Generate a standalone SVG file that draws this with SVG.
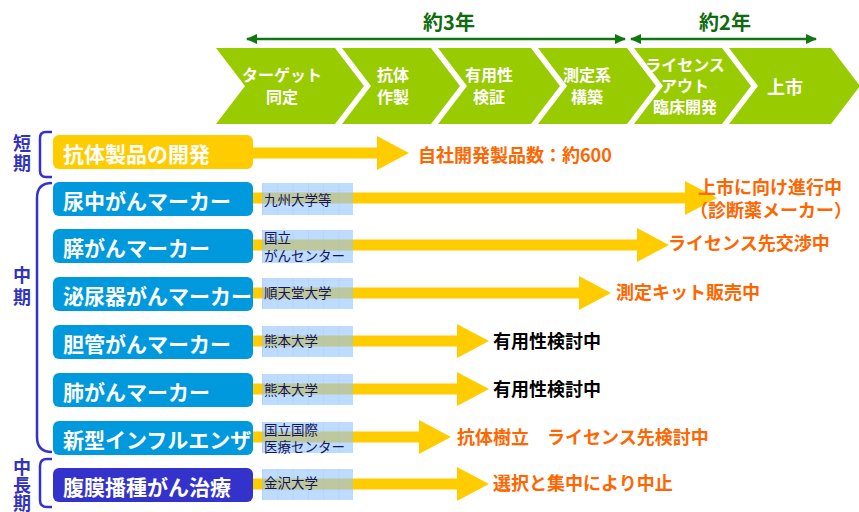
<svg xmlns="http://www.w3.org/2000/svg" width="859" height="512" viewBox="0 0 859 512">
<style>
text{font-family:"Noto Sans CJK JP","Noto Sans",sans-serif;font-weight:bold}
.chev{fill:#99cc00}
.ct{fill:#ffffff;font-size:16px;text-anchor:middle}
.dur{fill:#0e6b0e;font-size:20px;text-anchor:middle}
.dl{stroke:#117711;stroke-width:2.5;fill:none}
.term{fill:#3333bb;font-size:18px;writing-mode:vertical-rl}
.br{stroke:#3333cc;stroke-width:2.5;fill:none}
.bx{stroke:none}
.y{fill:#ffcc00}
.b{fill:#0099dd}
.d{fill:#3333cc}
.bt{fill:#ffffff;font-size:21px}
.ya{stroke:#ffcc00;stroke-width:11;fill:none}
.pb{fill:rgb(148,197,255);fill-opacity:0.61}
.pg{fill:url(#grid)}
.pt{fill:#14145a;font-size:13.5px;font-weight:normal}
.st{font-size:18px}
.or{fill:#ff6600}
.bk{fill:#000000}
</style>
<defs>
<marker id="gh" markerUnits="userSpaceOnUse" markerWidth="12" markerHeight="10" refX="10" refY="5" orient="auto-start-reverse">
<path d="M0,0 L11,5 L0,10 z" fill="#117711"/>
</marker>
<marker id="yh" markerUnits="userSpaceOnUse" markerWidth="34" markerHeight="34" refX="0" refY="17" orient="auto">
<path d="M0,0 L32,17 L0,34 z" fill="#ffcc00"/>
</marker>
<pattern id="grid" patternUnits="userSpaceOnUse" x="262" y="0" width="15.3" height="10">
<path d="M0,0 V10" stroke="#8fb9ee" stroke-width="0.8" opacity="0.6"/>
<path d="M0,0 H15.3" stroke="#8fb9ee" stroke-width="0.5" opacity="0.35"/>
</pattern>
</defs>

<g id="duration-3y">
<line class="dl" x1="247" y1="39" x2="625" y2="39" marker-start="url(#gh)" marker-end="url(#gh)"/>
<text class="dur" x="449" y="30">約3年</text>
</g>
<g id="duration-2y">
<line class="dl" x1="631" y1="39" x2="816" y2="39" marker-start="url(#gh)" marker-end="url(#gh)"/>
<text class="dur" x="725" y="30">約2年</text>
</g>

<g id="step-1">
<polygon class="chev" points="216,48 335,48 364,86 335,124 216,124 245,86"/>
<text class="ct" x="282" y="81">ターゲット<tspan x="282" dy="22">同定</tspan></text>
</g>
<g id="step-2">
<polygon class="chev" points="342,48 431,48 460,86 431,124 342,124 371,86"/>
<text class="ct" x="393" y="81">抗体<tspan x="393" dy="22">作製</tspan></text>
</g>
<g id="step-3">
<polygon class="chev" points="438,48 531,48 560,86 531,124 438,124 467,86"/>
<text class="ct" x="489" y="81">有用性<tspan x="489" dy="22">検証</tspan></text>
</g>
<g id="step-4">
<polygon class="chev" points="538,48 627,48 656,86 627,124 538,124 567,86"/>
<text class="ct" x="587" y="81">測定系<tspan x="587" dy="22">構築</tspan></text>
</g>
<g id="step-5">
<polygon class="chev" points="634,48 722,48 751,86 722,124 634,124 663,86"/>
<text class="ct" x="685" y="71">ライセンス<tspan x="685" dy="21">アウト</tspan><tspan x="685" dy="21">臨床開発</tspan></text>
</g>
<g id="step-6">
<polygon class="chev" points="729,48 831,48 860,86 831,124 729,124 758,86"/>
<text class="ct" x="785" y="94" style="font-size:18px">上市</text>
</g>

<g id="term-short">
<path class="br" d="M52,132 H46 Q40,132 40,138 V171 Q40,177 46,177 H52"/>
<text class="term" x="22" y="134" style="letter-spacing:2px">短期</text>
</g>
<g id="term-mid">
<path class="br" d="M52,183 Q37,183 37,198 V437 Q37,452 52,452"/>
<text class="term" x="22" y="266" style="letter-spacing:4px">中期</text>
</g>
<g id="term-midlong">
<path class="br" d="M52,459 H47 Q40,459 40,466 V500 Q40,507 47,507 H52"/>
<text class="term" x="22" y="458">中長期</text>
</g>

<g id="connectors">
<line class="ya" x1="253" y1="153" x2="377" y2="153" marker-end="url(#yh)"/>
<line class="ya" x1="253" y1="198" x2="685" y2="198" marker-end="url(#yh)"/>
<line class="ya" x1="253" y1="245" x2="637" y2="245" marker-end="url(#yh)"/>
<line class="ya" x1="253" y1="293" x2="579" y2="293" marker-end="url(#yh)"/>
<line class="ya" x1="253" y1="341" x2="457" y2="341" marker-end="url(#yh)"/>
<line class="ya" x1="253" y1="389" x2="457" y2="389" marker-end="url(#yh)"/>
<line class="ya" x1="253" y1="437" x2="419" y2="437" marker-end="url(#yh)"/>
<line class="ya" x1="253" y1="484" x2="457" y2="484" marker-end="url(#yh)"/>
</g>

<g id="row-antibody">
<rect class="bx y" x="53" y="135" width="200" height="34" rx="6"/>
<text class="bt" x="63" y="162">抗体製品の開発</text>
</g>
<g id="row-urine">
<rect class="bx b" x="53" y="182" width="200" height="34" rx="6"/>
<text class="bt" x="63" y="209">尿中がんマーカー</text>
</g>
<g id="row-pancreas">
<rect class="bx b" x="53" y="229" width="200" height="34" rx="6"/>
<text class="bt" x="63" y="256">膵がんマーカー</text>
</g>
<g id="row-urologic">
<rect class="bx b" x="53" y="277" width="200" height="34" rx="6"/>
<text class="bt" x="63" y="304">泌尿器がんマーカー</text>
</g>
<g id="row-biliary">
<rect class="bx b" x="53" y="325" width="200" height="34" rx="6"/>
<text class="bt" x="63" y="352">胆管がんマーカー</text>
</g>
<g id="row-lung">
<rect class="bx b" x="53" y="373" width="200" height="34" rx="6"/>
<text class="bt" x="63" y="400">肺がんマーカー</text>
</g>
<g id="row-flu">
<rect class="bx b" x="53" y="421" width="200" height="34" rx="6"/>
<text class="bt" x="63" y="448">新型インフルエンザ</text>
</g>
<g id="row-peritoneal">
<rect class="bx d" x="53" y="468" width="200" height="34" rx="6"/>
<text class="bt" x="63" y="495">腹膜播種がん治療</text>
</g>

<g id="partner-kyushu">
<rect class="pb" x="262" y="183" width="91" height="32"/>
<rect class="pg" x="262" y="183" width="91" height="32"/>
<text class="pt" x="264" y="205">九州大学等</text>
</g>
<g id="partner-ncc">
<rect class="pb" x="262" y="230" width="91" height="33"/>
<rect class="pg" x="262" y="230" width="91" height="33"/>
<text class="pt" x="264" y="243">国立<tspan x="264" dy="18">がんセンター</tspan></text>
</g>
<g id="partner-juntendo">
<rect class="pb" x="262" y="278" width="91" height="31"/>
<rect class="pg" x="262" y="278" width="91" height="31"/>
<text class="pt" x="264" y="298">順天堂大学</text>
</g>
<g id="partner-kumamoto-1">
<rect class="pb" x="262" y="326" width="91" height="31"/>
<rect class="pg" x="262" y="326" width="91" height="31"/>
<text class="pt" x="264" y="346">熊本大学</text>
</g>
<g id="partner-kumamoto-2">
<rect class="pb" x="262" y="374" width="91" height="31"/>
<rect class="pg" x="262" y="374" width="91" height="31"/>
<text class="pt" x="264" y="395">熊本大学</text>
</g>
<g id="partner-ncgm">
<rect class="pb" x="262" y="422" width="91" height="31"/>
<rect class="pg" x="262" y="422" width="91" height="31"/>
<text class="pt" x="264" y="435">国立国際<tspan x="264" dy="17">医療センター</tspan></text>
</g>
<g id="partner-kanazawa">
<rect class="pb" x="262" y="469" width="91" height="31"/>
<rect class="pg" x="262" y="469" width="91" height="31"/>
<text class="pt" x="264" y="488">金沢大学</text>
</g>

<g id="status-antibody"><text class="st or" x="418" y="162">自社開発製品数：約600</text></g>
<g id="status-urine">
<text class="st or" x="698" y="194">上市に向け進行中<tspan x="690" dy="23">（診断薬メーカー）</tspan></text>
</g>
<g id="status-pancreas"><text class="st or" x="668" y="250">ライセンス先交渉中</text></g>
<g id="status-urologic"><text class="st or" x="616" y="299">測定キット販売中</text></g>
<g id="status-biliary"><text class="st bk" x="493" y="348">有用性検討中</text></g>
<g id="status-lung"><text class="st bk" x="493" y="396">有用性検討中</text></g>
<g id="status-flu"><text class="st or" x="457" y="444">抗体樹立　ライセンス先検討中</text></g>
<g id="status-peritoneal"><text class="st or" x="493" y="490">選択と集中により中止</text></g>
</svg>
